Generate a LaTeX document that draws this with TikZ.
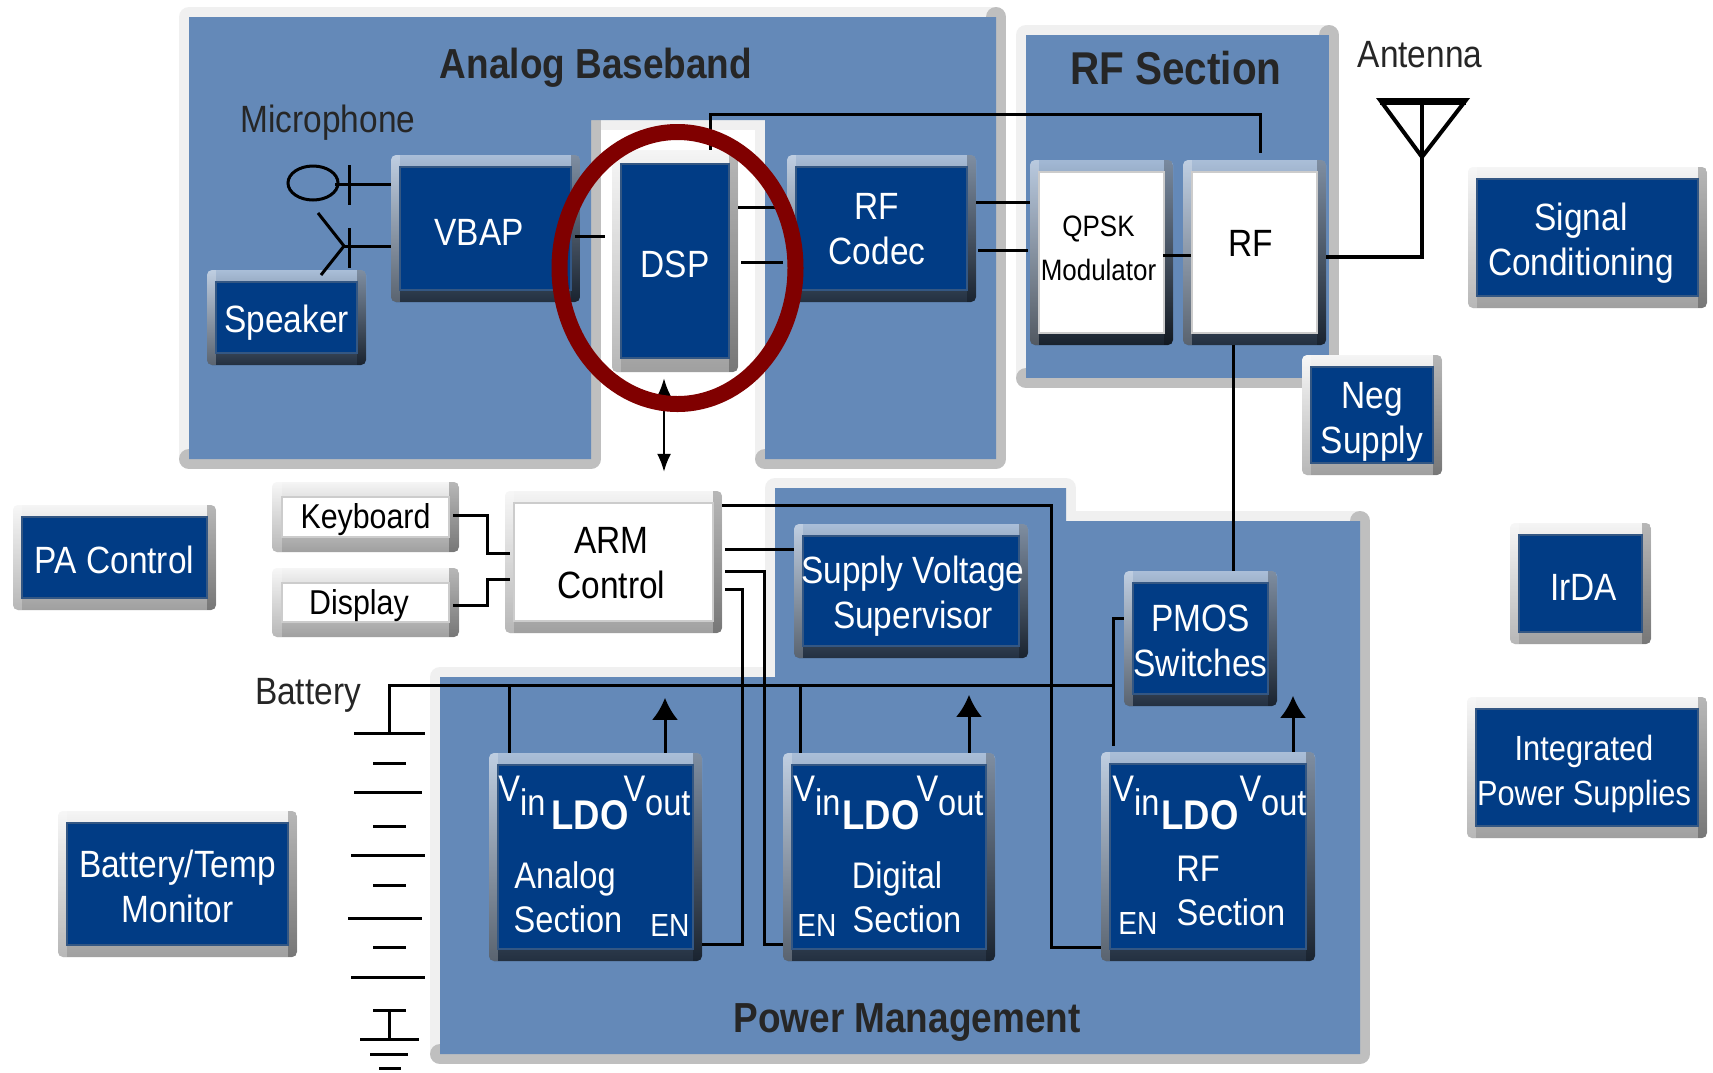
\documentclass[tikz,border=0pt]{standalone}
\usepackage{fontspec}
\setmainfont[FakeStretch=0.88]{Liberation Sans}
\usepackage{xcolor}
\usetikzlibrary{arrows.meta,positioning,calc}
\definecolor{boxnavy}{RGB}{1,60,133}
\definecolor{panelblue}{RGB}{100,137,184}
\definecolor{ringred}{RGB}{128,0,0}
\newcommand{\nudge}[3]{\raisebox{\dimexpr#2-7pt\relax}[0pt][0pt]{\hspace*{#1}\makebox[0pt]{\parbox[c]{400pt}{\centering #3}}\hspace*{-#1}}}

\begin{document}
\begin{tikzpicture}[x=1pt,y=-1pt,
  bevel/.style n args={3}{rounded corners=5pt,inner sep=0pt,align=center,
              path picture={
                \fill[black,opacity=.25,sharp corners] ([xshift=-#2]path picture bounding box.north east)
                  rectangle (path picture bounding box.south east);
                \fill[white,opacity=.25,sharp corners] (path picture bounding box.north west)
                  rectangle ([xshift=#2]path picture bounding box.south west);
                \path[fill=#1,draw=#1!60!gray,line width=1.5pt,sharp corners] ([shift={(#2,-#3)}]path picture bounding box.north west)
                  rectangle ([shift={(-#2,#3)}]path picture bounding box.south east);}},
  onwhite/.style={top color=gray!8,middle color=gray!22,bottom color=gray!75},
  onpanel/.style={top color=panelblue!55!white,middle color=panelblue,bottom color=panelblue!35!black},
  navybox/.style={bevel={boxnavy}{9pt}{12pt},text=white,font=\fontsize{38}{45}\selectfont},
  whitebox/.style={bevel={white}{9pt}{12pt},text=black,font=\fontsize{38}{45}\selectfont},
  keybox/.style={bevel={white}{10pt}{15pt},onwhite,text=black,font=\fontsize{34.5}{40}\selectfont},
  title/.style={font=\bfseries\fontsize{42}{45}\selectfont,text=black!85},
  caption/.style={font=\fontsize{38}{40}\selectfont,text=black!85},
  ldotext/.style={text=white,font=\fontsize{37}{45}\selectfont},
  ldobold/.style={text=white,font=\bfseries\fontsize{41.5}{45}\selectfont},
  pintext/.style={text=white,font=\fontsize{32}{34}\selectfont},
  panelrim/.style={draw=gray!12,line width=20pt,line join=round},
  paneledge/.style={draw=gray!50,line width=20pt,line cap=round,line join=round},
  wire/.style={draw=black,line width=3pt},
  plate/.style={draw=black,line width=3pt},
  arr/.style={wire,-{Latex[length=22pt,width=26pt]}}
]
\useasboundingbox (0,0) rectangle (1713,1072);
\fill[white] (0,0) rectangle (1713,1072);

% panels
\draw[panelrim] (189,17) -- (996,17) -- (996,459) -- (765,459) -- (765,120) -- (591,120) -- (591,459) -- (189,459) -- cycle;
\draw[paneledge] (996,17) -- (996,459) -- (765,459);
\draw[paneledge] (591,120) -- (591,459) -- (189,459);
\fill[panelblue] (189,17) -- (996,17) -- (996,459) -- (765,459) -- (765,120) -- (591,120) -- (591,459) -- (189,459) -- cycle;

\draw[panelrim] (1026,35) -- (1329,35) -- (1329,378) -- (1026,378) -- cycle;
\draw[paneledge] (1329,35) -- (1329,378) -- (1026,378);
\fill[panelblue] (1026,35) -- (1329,35) -- (1329,378) -- (1026,378) -- cycle;

\draw[panelrim] (440,677) -- (775,677) -- (775,488) -- (1066,488) -- (1066,521) -- (1360,521) -- (1360,1054) -- (440,1054) -- cycle;
\draw[paneledge] (1360,521) -- (1360,1054) -- (440,1054);
\fill[panelblue] (440,677) -- (775,677) -- (775,488) -- (1066,488) -- (1066,521) -- (1360,521) -- (1360,1054) -- (440,1054) -- cycle;

\node[title] (analogtitle) at (596,68) {Analog Baseband};
\node[title,font=\bfseries\fontsize{46}{48}\selectfont] (rftitle) at (1176,68) {RF Section};
\node[title] (powertitle) at (907,1022) {Power Management};
\node[caption] (miclabel) at (328,123) {Microphone};
\node[caption] (antlabel) at (1420,55) {Antenna};
\node[caption] (batlabel) at (308,695) {Battery};

% blocks on the panels
\node[navybox,onpanel,minimum width=189pt,minimum height=147pt] (vbap) at (485.5,228.5) {\nudge{-6.5pt}{-3pt}{VBAP}};
\node[navybox,onpanel,minimum width=159pt,minimum height=95pt] (speaker) at (286.5,317.5) {\nudge{0pt}{-4pt}{Speaker}};
\node[navybox,bevel={boxnavy}{9pt}{14pt},onwhite,minimum width=126pt,minimum height=222pt] (dsp) at (675,261) {\nudge{0pt}{-3pt}{DSP}};
\node[navybox,onpanel,minimum width=189pt,minimum height=147pt] (codec) at (881.5,228.5) {\nudge{-4.5pt}{0pt}{RF\\Codec}};
\node[whitebox,top color=panelblue!60!white,middle color=panelblue!60!black,bottom color=black!75!panelblue,
      minimum width=143pt,minimum height=185pt,font=\fontsize{29.5}{44}\selectfont] (qpsk) at (1101.5,252.5) {\nudge{-3pt}{5pt}{QPSK\\Modulator}};
\node[whitebox,onpanel,minimum width=143pt,minimum height=185pt] (rf) at (1254.5,252.5) {\nudge{-4pt}{10pt}{RF}};
\node[navybox,onwhite,minimum width=140pt,minimum height=120pt] (negsupply) at (1372,415) {\nudge{0pt}{-6.5pt}{Neg\\Supply}};
\node[navybox,onwhite,minimum width=239pt,minimum height=141pt] (signal) at (1587.5,237.5) {\nudge{-6.5pt}{-5pt}{Signal\\Conditioning}};
\node[navybox,onwhite,minimum width=203pt,minimum height=105pt] (pactrl) at (114.5,557.5) {\nudge{0pt}{-2pt}{PA Control}};
\node[navybox,onwhite,minimum width=239pt,minimum height=146pt] (battemp) at (177.5,884) {\nudge{0pt}{-2pt}{Battery/Temp\\Monitor}};
\node[keybox,minimum width=187pt,minimum height=70pt] (keyboard) at (365.5,517) {\nudge{0pt}{-2pt}{Keyboard}};
\node[keybox,minimum width=187pt,minimum height=69pt] (display) at (365.5,602.5) {\nudge{-6.5pt}{-2pt}{Display}};
\node[whitebox,onwhite,minimum width=217pt,minimum height=142pt] (arm) at (613.5,562) {\nudge{-2pt}{0pt}{ARM\\Control}};
\node[navybox,onpanel,minimum width=234pt,minimum height=134pt] (supply) at (911,591) {\nudge{2pt}{-4.5pt}{Supply Voltage\\Supervisor}};
\node[navybox,onpanel,minimum width=153pt,minimum height=135pt] (pmos) at (1200.5,638.5) {\nudge{0pt}{-2pt}{PMOS\\Switches}};
\node[navybox,onwhite,minimum width=141pt,minimum height=121pt] (irda) at (1580.5,583.5) {\nudge{3pt}{-3pt}{IrDA}};
\node[navybox,onwhite,minimum width=240pt,minimum height=141pt,font=\fontsize{35}{45}\selectfont] (integ) at (1587,767.5) {\nudge{-3pt}{-6pt}{Integrated\\Power Supplies}};
\node[navybox,onpanel,minimum width=213pt,minimum height=208pt] (ldoA) at (595.5,857) {};
\node[navybox,onpanel,minimum width=212pt,minimum height=208pt] (ldoD) at (889,857) {};
\node[navybox,onpanel,minimum width=214pt,minimum height=209pt] (ldoR) at (1208,856.5) {};

% LDO labels
\node[ldotext] (vinA) at (522,796) {V\raisebox{-14pt}{in}};
\node[ldobold] (ldonameA) at (590,815) {LDO};
\node[ldotext] (voutA) at (657,796) {V\raisebox{-14pt}{out}};
\node[ldotext] (analogA) at (565,879) {Analog};
\node[ldotext] (sectionA) at (568,919) {Section};
\node[pintext] (enA) at (670,925) {EN};

\node[ldotext] (vinD) at (817,796) {V\raisebox{-14pt}{in}};
\node[ldobold] (ldonameD) at (881,815) {LDO};
\node[ldotext] (voutD) at (950,796) {V\raisebox{-14pt}{out}};
\node[ldotext] (digitalD) at (897,879) {Digital};
\node[ldotext] (sectionD) at (907,919) {Section};
\node[pintext] (enD) at (817,925) {EN};

\node[ldotext] (vinR) at (1136,796) {V\raisebox{-14pt}{in}};
\node[ldobold] (ldonameR) at (1200,815) {LDO};
\node[ldotext] (voutR) at (1273,796) {V\raisebox{-14pt}{out}};
\node[ldotext] (rfR) at (1198,869) {RF};
\node[ldotext] (sectionR) at (1231,912) {Section};
\node[pintext] (enR) at (1138,923) {EN};

% microphone and speaker symbols
\draw[plate] (313,183) ellipse (25 and 17);
\draw[plate] (349,165) -- (349,205);
\draw[wire] (335,184) -- ([yshift=44.5pt]vbap.west);
\draw[plate] (318,213) -- (344,246) -- (321,275);
\draw[plate] (349,228) -- (349,268);
\draw[wire] (344,246) -- ([yshift=-17.5pt]vbap.west);

% antenna
\coordinate (antfeed) at (1422,103);
\draw[line width=4pt,line join=miter] (1380,100) -- (1466,100) -- (1422,157) -- cycle;
\draw[line width=7pt] (1380,101) -- (1466,101);
\draw[wire,line width=4pt] ([yshift=-4.5pt]rf.east) -| (antfeed);

% battery stack
\coordinate (battop) at (389,733);
\coordinate (railend) at (1113,685);
\draw[wire] (battop) |- (railend);
\draw[plate] (354,733) -- (425,733);
\draw[plate] (373,763) -- (406,763);
\draw[plate] (354,792) -- (422,792);
\draw[plate] (373,826) -- (406,826);
\draw[plate] (351,855) -- (425,855);
\draw[plate] (373,885) -- (406,885);
\draw[plate] (348,918) -- (422,918);
\draw[plate] (373,947) -- (406,947);
\draw[plate] (351,977) -- (425,977);
\draw[plate] (373,1010) -- (406,1010);
\draw[plate] (389,1010) -- (389,1039);
\draw[plate] (360,1039) -- (419,1039);
\draw[plate] (370,1054) -- (408,1054);
\draw[plate] (379,1068) -- (401,1068);

% connectors
\draw[wire] ([xshift=-5pt,yshift=-7.5pt]vbap.east) -- ([xshift=-7pt,yshift=25pt]dsp.west);
\draw[wire] ([yshift=54pt]dsp.east) -- ([xshift=-11pt,yshift=21.5pt]codec.west);
\draw[wire] ([xshift=3pt,yshift=-1pt]dsp.east) -- ([xshift=-4pt,yshift=-33.5pt]codec.west);
\draw[wire] ([yshift=26.5pt]codec.east) -- ([yshift=50.5pt]qpsk.west);
\draw[wire] ([xshift=2pt,yshift=-21.5pt]codec.east) -- ([xshift=-2pt,yshift=2.5pt]qpsk.west);
\draw[wire] ([xshift=-10pt,yshift=-2.5pt]qpsk.east) -- ([xshift=8pt,yshift=-2.5pt]rf.west);
\draw[wire] ([xshift=35pt]dsp.north) -- ++(0,-35) -| ([xshift=5.5pt,yshift=7pt]rf.north);
\draw[wire] ([xshift=-21.5pt]rf.south) -- ([xshift=32.5pt]pmos.north);
\draw[wire,line width=2pt,{Latex[length=18pt,width=14pt]}-{Latex[length=18pt,width=14pt]}] ([xshift=-11pt,yshift=-6pt]dsp.south) -- ([xshift=50.5pt,yshift=19pt]arm.north);

\draw[wire] ([xshift=-6pt,yshift=2pt]keyboard.east) -- ++(34,0) |- ([xshift=5pt,yshift=9pt]arm.west);
\draw[wire] ([xshift=-6pt,yshift=-2.5pt]display.east) -- ++(34,0) |- ([xshift=5pt,yshift=-17pt]arm.west);
\draw[wire] ([yshift=57pt]arm.east) -- ++(329,0) |- ([yshift=-90.5pt]ldoR.west);
\draw[wire] ([xshift=3pt,yshift=13pt]arm.east) -- ([yshift=42pt]supply.west);
\draw[wire] ([xshift=3pt,yshift=-9pt]arm.east) -- ++(39,0) |- ([yshift=-87pt]ldoD.west);
\draw[wire] ([xshift=3pt,yshift=-27pt]arm.east) -- ++(17,0) |- ([yshift=-87pt]ldoA.east);

\draw[wire] ([xshift=-86.5pt]ldoA.north) -- ++(0,-68);
\draw[wire] ([xshift=-89pt]ldoD.north) -- ++(0,-68);
\draw[wire] ([xshift=-95pt,yshift=6pt]ldoR.north) |- ([yshift=20.5pt]pmos.west);
\draw[arr] ([xshift=69.5pt]ldoA.north) -- ++(0,-55);
\draw[arr] ([xshift=80pt]ldoD.north) -- ++(0,-58);
\draw[arr] ([xshift=85pt]ldoR.north) -- ++(0,-56);

% ring round the DSP
\draw[ringred,line width=16pt] (dsp.center) ++(2.5,7) ellipse (118 and 136);
\end{tikzpicture}
\end{document}
